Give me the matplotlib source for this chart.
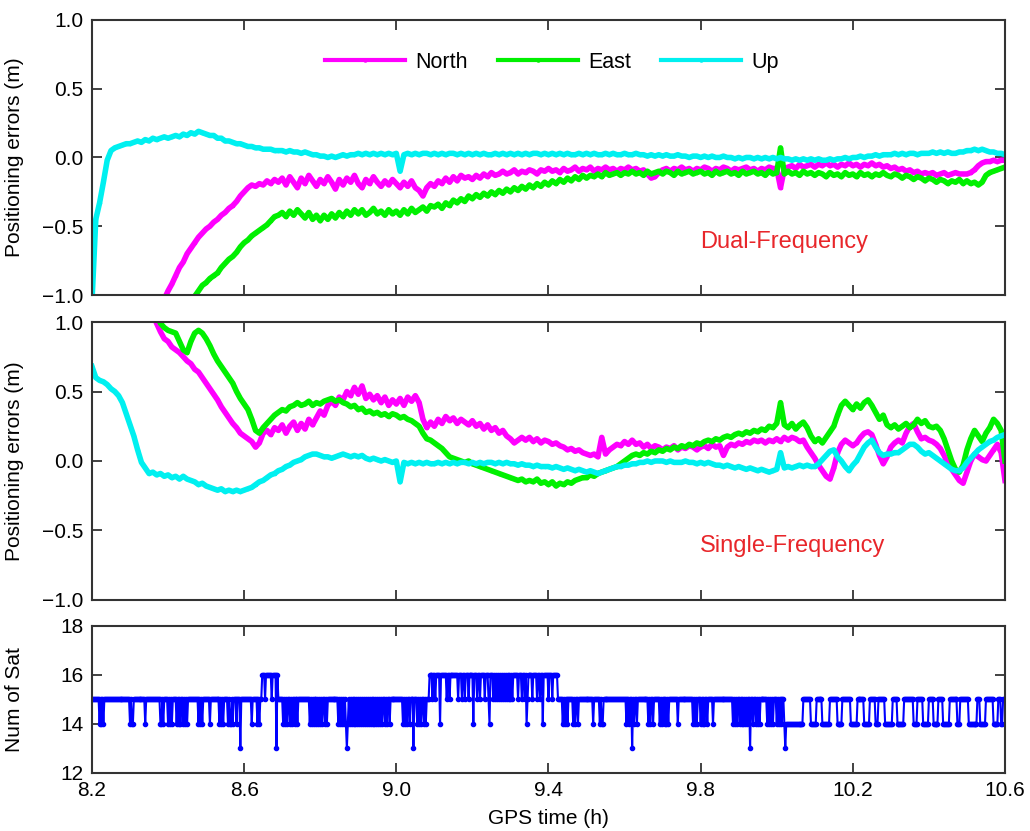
import numpy as np
import matplotlib
matplotlib.use("Agg")
import matplotlib.pyplot as plt

plt.rcParams['font.family'] = ['Liberation Sans', 'DejaVu Sans']

# GPS time grid of the positioning series (h), one value every 0.01 h
gps_time = np.round(np.linspace(8.2, 10.6, 241), 2)

# dual-frequency errors (m)
north_dual = [
    -1.95, -1.90, -1.85, -1.80, -1.75, -1.70, -1.65, -1.60, -1.55, -1.50,
    -1.45, -1.40, -1.35, -1.30, -1.25, -1.20, -1.15, -1.12, -1.08, -1.03,
    -0.97, -0.92, -0.86, -0.80, -0.76, -0.70, -0.66, -0.62, -0.58, -0.55,
    -0.52, -0.50, -0.47, -0.45, -0.42, -0.40, -0.37, -0.35, -0.32, -0.28,
    -0.25, -0.22, -0.20, -0.21, -0.19, -0.20, -0.17, -0.19, -0.16, -0.18,
    -0.15, -0.20, -0.14, -0.18, -0.22, -0.15, -0.19, -0.13, -0.17, -0.21,
    -0.16, -0.19, -0.14, -0.18, -0.23, -0.16, -0.20, -0.15, -0.18, -0.13,
    -0.19, -0.22, -0.16, -0.19, -0.14, -0.18, -0.21, -0.17, -0.20, -0.16,
    -0.19, -0.22, -0.18, -0.21, -0.17, -0.22, -0.24, -0.28, -0.22, -0.19,
    -0.21, -0.17, -0.19, -0.15, -0.18, -0.14, -0.17, -0.13, -0.15, -0.14,
    -0.16, -0.13, -0.15, -0.12, -0.14, -0.11, -0.13, -0.12, -0.10, -0.12,
    -0.11, -0.09, -0.12, -0.10, -0.11, -0.09, -0.10, -0.12, -0.09, -0.10,
    -0.08, -0.10, -0.09, -0.11, -0.08, -0.10, -0.09, -0.07, -0.10, -0.08,
    -0.09, -0.07, -0.10, -0.08, -0.09, -0.07, -0.09, -0.08, -0.10, -0.08,
    -0.09, -0.07, -0.09, -0.08, -0.10, -0.09, -0.12, -0.15, -0.14, -0.11,
    -0.09, -0.08, -0.10, -0.08, -0.09, -0.07, -0.09, -0.08, -0.10, -0.08,
    -0.09, -0.07, -0.08, -0.10, -0.08, -0.09, -0.07, -0.08, -0.10, -0.08,
    -0.09, -0.08, -0.07, -0.09, -0.08, -0.10, -0.08, -0.09, -0.07, -0.08,
    -0.08, -0.22, -0.08, -0.07, -0.06, -0.08, -0.05, -0.07, -0.06, -0.05,
    -0.07, -0.05, -0.06, -0.04, -0.06, -0.05, -0.07, -0.05, -0.06, -0.04,
    -0.06, -0.05, -0.07, -0.05, -0.06, -0.04, -0.06, -0.05, -0.07, -0.06,
    -0.08, -0.07, -0.09, -0.08, -0.10, -0.09, -0.11, -0.10, -0.12, -0.11,
    -0.12, -0.11, -0.13, -0.12, -0.11, -0.13, -0.12, -0.11, -0.12, -0.12,
    -0.12, -0.11, -0.09, -0.06, -0.04, -0.03, -0.03, -0.02, -0.03, -0.02,
    -0.02]
east_dual = [
    -2.40, -2.35, -2.30, -2.25, -2.20, -2.10, -2.00, -1.95, -1.90, -1.85,
    -1.80, -1.75, -1.70, -1.60, -1.55, -1.50, -1.45, -1.40, -1.35, -1.32,
    -1.30, -1.26, -1.22, -1.18, -1.14, -1.10, -1.06, -1.01, -0.97, -0.93,
    -0.91, -0.88, -0.86, -0.84, -0.80, -0.77, -0.74, -0.72, -0.69, -0.65,
    -0.62, -0.60, -0.57, -0.55, -0.53, -0.51, -0.49, -0.46, -0.43, -0.42,
    -0.40, -0.43, -0.39, -0.42, -0.38, -0.41, -0.44, -0.40, -0.45, -0.42,
    -0.46, -0.42, -0.45, -0.41, -0.44, -0.40, -0.43, -0.39, -0.42, -0.38,
    -0.41, -0.38, -0.42, -0.40, -0.37, -0.41, -0.39, -0.42, -0.38, -0.41,
    -0.39, -0.42, -0.38, -0.41, -0.37, -0.40, -0.38, -0.36, -0.39, -0.35,
    -0.36, -0.34, -0.37, -0.33, -0.35, -0.31, -0.33, -0.30, -0.32, -0.28,
    -0.30, -0.27, -0.29, -0.26, -0.28, -0.25, -0.27, -0.24, -0.26, -0.23,
    -0.25, -0.22, -0.24, -0.21, -0.23, -0.20, -0.22, -0.19, -0.21, -0.18,
    -0.20, -0.17, -0.19, -0.16, -0.18, -0.15, -0.17, -0.14, -0.16, -0.13,
    -0.15, -0.13, -0.14, -0.12, -0.14, -0.11, -0.13, -0.12, -0.11, -0.13,
    -0.11, -0.12, -0.10, -0.12, -0.11, -0.13, -0.10, -0.12, -0.11, -0.10,
    -0.12, -0.10, -0.11, -0.13, -0.10, -0.12, -0.11, -0.10, -0.12, -0.11,
    -0.10, -0.12, -0.11, -0.13, -0.10, -0.12, -0.11, -0.10, -0.12, -0.11,
    -0.13, -0.10, -0.12, -0.11, -0.10, -0.12, -0.11, -0.13, -0.10, -0.12,
    -0.11, 0.07, -0.12, -0.10, -0.12, -0.11, -0.13, -0.10, -0.12, -0.11,
    -0.13, -0.11, -0.12, -0.14, -0.11, -0.13, -0.12, -0.14, -0.11, -0.13,
    -0.12, -0.14, -0.11, -0.13, -0.12, -0.14, -0.12, -0.13, -0.11, -0.13,
    -0.14, -0.12, -0.13, -0.15, -0.13, -0.14, -0.16, -0.14, -0.15, -0.17,
    -0.15, -0.16, -0.18, -0.16, -0.17, -0.19, -0.17, -0.18, -0.16, -0.19,
    -0.17, -0.19, -0.18, -0.20, -0.18, -0.13, -0.11, -0.10, -0.09, -0.08,
    -0.07]
up_dual = [
    -1.05, -0.45, -0.33, -0.18, -0.02, 0.05, 0.07, 0.08, 0.09, 0.10,
    0.10, 0.11, 0.12, 0.11, 0.13, 0.12, 0.14, 0.13, 0.14, 0.15,
    0.14, 0.15, 0.16, 0.15, 0.17, 0.16, 0.18, 0.17, 0.19, 0.18,
    0.17, 0.16, 0.16, 0.14, 0.14, 0.12, 0.12, 0.11, 0.10, 0.10,
    0.09, 0.08, 0.08, 0.07, 0.07, 0.06, 0.06, 0.06, 0.05, 0.05,
    0.05, 0.04, 0.05, 0.04, 0.04, 0.03, 0.04, 0.03, 0.02, 0.02,
    0.01, 0.01, 0.00, 0.01, 0.00, 0.01, 0.02, 0.01, 0.02, 0.02,
    0.03, 0.02, 0.03, 0.02, 0.03, 0.02, 0.03, 0.02, 0.03, 0.02,
    0.03, -0.10, 0.02, 0.03, 0.02, 0.03, 0.02, 0.03, 0.03, 0.02,
    0.03, 0.02, 0.03, 0.02, 0.03, 0.03, 0.02, 0.03, 0.02, 0.03,
    0.02, 0.03, 0.02, 0.03, 0.02, 0.02, 0.03, 0.02, 0.03, 0.02,
    0.03, 0.02, 0.03, 0.02, 0.03, 0.02, 0.03, 0.03, 0.02, 0.03,
    0.02, 0.03, 0.02, 0.03, 0.02, 0.03, 0.02, 0.02, 0.03, 0.02,
    0.03, 0.02, 0.03, 0.02, 0.02, 0.03, 0.02, 0.03, 0.02, 0.02,
    0.03, 0.02, 0.02, 0.03, 0.02, 0.02, 0.01, 0.02, 0.01, 0.02,
    0.01, 0.02, 0.01, 0.01, 0.02, 0.01, 0.01, 0.00, 0.01, 0.01,
    0.00, 0.01, 0.00, 0.01, 0.00, 0.00, 0.01, 0.00, 0.00, -0.01,
    0.00, -0.01, 0.00, 0.00, -0.01, 0.00, -0.01, 0.00, -0.01, 0.00,
    -0.01, 0.00, -0.01, -0.01, -0.02, -0.01, -0.02, -0.01, -0.02, -0.01,
    -0.02, -0.01, -0.02, -0.02, -0.01, -0.02, -0.01, -0.01, 0.00, -0.01,
    0.00, 0.00, 0.01, 0.00, 0.01, 0.01, 0.02, 0.01, 0.02, 0.02,
    0.02, 0.03, 0.02, 0.03, 0.02, 0.03, 0.03, 0.02, 0.03, 0.03,
    0.03, 0.04, 0.03, 0.04, 0.03, 0.04, 0.03, 0.03, 0.04, 0.04,
    0.05, 0.05, 0.06, 0.05, 0.06, 0.05, 0.04, 0.04, 0.03, 0.03,
    0.02]

# single-frequency errors (m)
north_single = [
    1.90, 1.85, 1.80, 1.74, 1.68, 1.62, 1.57, 1.52, 1.47, 1.42,
    1.37, 1.32, 1.27, 1.22, 1.17, 1.12, 1.06, 0.99, 0.93, 0.88,
    0.86, 0.82, 0.80, 0.78, 0.75, 0.72, 0.70, 0.66, 0.64, 0.60,
    0.56, 0.52, 0.48, 0.44, 0.39, 0.35, 0.31, 0.27, 0.24, 0.20,
    0.18, 0.16, 0.14, 0.10, 0.13, 0.20, 0.22, 0.19, 0.24, 0.22,
    0.26, 0.20, 0.25, 0.28, 0.22, 0.27, 0.23, 0.30, 0.26, 0.31,
    0.36, 0.33, 0.40, 0.43, 0.40, 0.46, 0.44, 0.50, 0.47, 0.53,
    0.48, 0.54, 0.45, 0.48, 0.44, 0.47, 0.42, 0.46, 0.40, 0.44,
    0.41, 0.45, 0.40, 0.46, 0.43, 0.47, 0.42, 0.30, 0.24, 0.28,
    0.25, 0.30, 0.27, 0.32, 0.29, 0.31, 0.27, 0.30, 0.28, 0.26,
    0.29, 0.25, 0.27, 0.23, 0.26, 0.22, 0.24, 0.20, 0.22, 0.18,
    0.16, 0.13, 0.15, 0.17, 0.15, 0.17, 0.14, 0.16, 0.13, 0.15,
    0.14, 0.12, 0.13, 0.11, 0.10, 0.08, 0.09, 0.07, 0.08, 0.06,
    0.05, 0.04, 0.05, 0.03, 0.17, 0.05, 0.08, 0.10, 0.12, 0.11,
    0.14, 0.12, 0.15, 0.12, 0.13, 0.10, 0.12, 0.09, 0.11, 0.10,
    0.08, 0.10, 0.09, 0.11, 0.08, 0.10, 0.09, 0.11, 0.10, 0.08,
    0.10, 0.11, 0.09, 0.12, 0.10, 0.11, 0.04, 0.10, 0.12, 0.11,
    0.13, 0.12, 0.14, 0.13, 0.15, 0.14, 0.15, 0.13, 0.15, 0.14,
    0.16, 0.14, 0.17, 0.15, 0.17, 0.16, 0.14, 0.15, 0.10, 0.06,
    0.02, -0.03, -0.07, -0.11, -0.13, -0.05, 0.06, 0.12, 0.15, 0.13,
    0.11, 0.13, 0.17, 0.20, 0.21, 0.19, 0.12, 0.04, -0.02, 0.03,
    0.10, 0.13, 0.15, 0.13, 0.20, 0.25, 0.27, 0.21, 0.16, 0.17,
    0.15, 0.14, 0.12, 0.09, 0.04, -0.02, -0.06, -0.10, -0.14, -0.16,
    -0.08, 0.00, 0.05, 0.03, 0.01, 0.00, 0.04, 0.08, 0.12, 0.06,
    -0.14]
east_single = [
    1.90, 1.86, 1.82, 1.78, 1.74, 1.70, 1.65, 1.60, 1.55, 1.50,
    1.45, 1.40, 1.35, 1.30, 1.25, 1.19, 1.13, 1.06, 0.99, 0.96,
    0.94, 0.93, 0.92, 0.86, 0.80, 0.78, 0.86, 0.92, 0.94, 0.92,
    0.88, 0.83, 0.77, 0.72, 0.68, 0.64, 0.60, 0.56, 0.50, 0.45,
    0.41, 0.37, 0.30, 0.22, 0.20, 0.24, 0.27, 0.30, 0.33, 0.35,
    0.37, 0.36, 0.39, 0.40, 0.42, 0.40, 0.41, 0.43, 0.40, 0.42,
    0.41, 0.43, 0.44, 0.45, 0.43, 0.44, 0.42, 0.41, 0.39, 0.40,
    0.37, 0.38, 0.35, 0.36, 0.34, 0.35, 0.33, 0.34, 0.32, 0.34,
    0.33, 0.31, 0.32, 0.30, 0.29, 0.27, 0.25, 0.20, 0.16, 0.15,
    0.13, 0.11, 0.09, 0.06, 0.03, 0.02, 0.01, 0.00, -0.01, 0.00,
    -0.02, -0.03, -0.04, -0.05, -0.06, -0.07, -0.08, -0.09, -0.10, -0.11,
    -0.12, -0.13, -0.14, -0.13, -0.15, -0.14, -0.15, -0.13, -0.16, -0.15,
    -0.17, -0.15, -0.18, -0.16, -0.17, -0.15, -0.16, -0.14, -0.13, -0.12,
    -0.12, -0.10, -0.11, -0.09, -0.08, -0.07, -0.06, -0.05, -0.04, -0.02,
    0.00, 0.02, 0.04, 0.05, 0.04, 0.06, 0.05, 0.07, 0.06, 0.08,
    0.07, 0.09, 0.08, 0.10, 0.09, 0.11, 0.10, 0.12, 0.11, 0.13,
    0.12, 0.14, 0.15, 0.14, 0.16, 0.15, 0.17, 0.18, 0.17, 0.19,
    0.20, 0.19, 0.21, 0.20, 0.22, 0.21, 0.23, 0.22, 0.25, 0.24,
    0.27, 0.42, 0.26, 0.24, 0.27, 0.23, 0.26, 0.28, 0.24, 0.18,
    0.14, 0.16, 0.13, 0.17, 0.21, 0.25, 0.33, 0.40, 0.43, 0.40,
    0.37, 0.41, 0.38, 0.42, 0.44, 0.40, 0.35, 0.30, 0.33, 0.26,
    0.24, 0.26, 0.23, 0.25, 0.27, 0.24, 0.26, 0.30, 0.27, 0.29,
    0.25, 0.24, 0.25, 0.22, 0.16, 0.08, 0.00, -0.06, -0.08, -0.03,
    0.08, 0.16, 0.22, 0.18, 0.14, 0.20, 0.24, 0.30, 0.27, 0.22,
    0.00]
up_single = [
    0.68, 0.60, 0.58, 0.57, 0.55, 0.52, 0.50, 0.47, 0.42, 0.34,
    0.26, 0.18, 0.08, -0.01, -0.05, -0.09, -0.08, -0.10, -0.09, -0.11,
    -0.10, -0.12, -0.11, -0.13, -0.11, -0.13, -0.14, -0.15, -0.17, -0.16,
    -0.18, -0.19, -0.20, -0.21, -0.20, -0.22, -0.21, -0.22, -0.21, -0.22,
    -0.21, -0.20, -0.19, -0.17, -0.15, -0.14, -0.12, -0.10, -0.09, -0.07,
    -0.06, -0.04, -0.03, -0.01, 0.00, 0.01, 0.03, 0.04, 0.05, 0.05,
    0.04, 0.03, 0.03, 0.02, 0.03, 0.04, 0.05, 0.04, 0.03, 0.04,
    0.03, 0.04, 0.02, 0.01, 0.02, 0.01, 0.00, 0.01, 0.00, -0.01,
    0.00, -0.15, -0.01, -0.02, -0.01, -0.02, -0.01, -0.02, -0.01, -0.02,
    -0.02, -0.01, -0.02, -0.01, -0.02, -0.01, -0.02, -0.01, -0.01, -0.02,
    -0.01, -0.02, -0.01, -0.02, -0.01, -0.01, -0.02, -0.01, -0.02, -0.01,
    -0.02, -0.02, -0.03, -0.02, -0.03, -0.03, -0.04, -0.03, -0.04, -0.04,
    -0.04, -0.05, -0.04, -0.05, -0.06, -0.05, -0.06, -0.07, -0.06, -0.07,
    -0.08, -0.07, -0.08, -0.09, -0.08, -0.07, -0.06, -0.05, -0.04, -0.04,
    -0.03, -0.03, -0.02, -0.02, -0.01, -0.01, 0.00, -0.01, 0.00, 0.00,
    0.00, -0.01, 0.00, -0.01, -0.01, -0.01, 0.00, -0.01, -0.01, -0.02,
    -0.01, -0.02, -0.01, -0.02, -0.03, -0.03, -0.04, -0.03, -0.04, -0.05,
    -0.04, -0.05, -0.06, -0.05, -0.06, -0.07, -0.06, -0.07, -0.08, -0.07,
    -0.06, 0.06, -0.05, -0.04, -0.05, -0.04, -0.03, -0.04, -0.03, -0.04,
    -0.04, -0.02, 0.01, 0.04, 0.07, 0.08, 0.03, 0.00, -0.04, -0.07,
    -0.03, 0.00, 0.05, 0.10, 0.13, 0.15, 0.10, 0.06, 0.04, 0.05,
    0.05, 0.06, 0.06, 0.08, 0.10, 0.12, 0.12, 0.10, 0.07, 0.05,
    0.06, 0.04, 0.02, 0.00, -0.02, -0.04, -0.06, -0.07, -0.07, -0.05,
    -0.01, 0.02, 0.05, 0.08, 0.10, 0.12, 0.14, 0.15, 0.17, 0.18,
    0.19]

# number of satellites: level changes, then single-epoch drops
sat_level_t = [8.2, 8.647, 8.688, 9.086, 9.425, 10.018, 10.069,
               10.090, 10.105, 10.120, 10.140, 10.158, 10.172, 10.195, 10.211,
               10.228, 10.245, 10.258, 10.266, 10.285, 10.303, 10.316, 10.335,
               10.358, 10.369, 10.385, 10.398, 10.411, 10.425, 10.437, 10.455,
               10.474, 10.482, 10.505, 10.526, 10.534, 10.550, 10.569, 10.582,
               10.590, 10.595]
sat_level_n = [15, 16, 15, 16, 15, 14, 15,
               14, 15, 14, 15, 14, 15, 14, 15,
               14, 15, 14, 15, 14, 15, 14, 15,
               14, 15, 14, 15, 14, 15, 14, 15,
               14, 15, 14, 15, 14, 15, 14, 15,
               14, 15]
sat_drop15 = [8.655, 8.673, 9.096, 9.102, 9.133, 9.141, 9.162, 9.172, 9.181,
              9.189, 9.212, 9.220, 9.233, 9.242, 9.255, 9.260, 9.265, 9.270,
              9.275, 9.280, 9.285, 9.290, 9.295, 9.300, 9.305, 9.320, 9.329,
              9.338, 9.346, 9.357, 9.370, 9.378, 9.399, 9.409]
sat_drop14 = [8.221, 8.224, 8.229, 8.300, 8.304, 8.308, 8.339, 8.379, 8.383,
              8.387, 8.400, 8.405, 8.410, 8.423, 8.428, 8.433, 8.440, 8.445,
              8.450, 8.479, 8.484, 8.489, 8.510, 8.536, 8.540, 8.544, 8.557,
              8.562, 8.566, 8.571, 8.581, 8.620, 8.636, 8.641,
              8.702, 8.707, 8.712, 8.720, 8.725, 8.733, 8.739, 8.773, 8.778,
              8.783, 8.790, 8.795, 8.800, 8.805, 8.812, 8.818, 8.847, 8.852,
              8.857, 8.862, 8.867, 8.872, 8.877, 8.882, 8.887, 8.892, 8.897,
              8.902, 8.907, 8.912, 8.917, 8.922, 8.927, 8.932, 8.937, 8.942,
              8.947, 8.952, 8.957, 8.962, 8.970, 8.975, 8.983, 9.018, 9.023,
              9.028, 9.036, 9.054, 9.060, 9.066, 9.072, 9.078,
              9.115, 9.202, 9.246, 9.343, 9.386,
              9.438, 9.443, 9.449, 9.464, 9.470, 9.478, 9.517, 9.535, 9.539,
              9.543, 9.606, 9.612, 9.626, 9.632, 9.662, 9.668, 9.675, 9.693,
              9.698, 9.704, 9.709, 9.714, 9.741, 9.780, 9.785, 9.790, 9.800,
              9.805, 9.811, 9.817, 9.833, 9.885, 9.890, 9.895, 9.902, 9.907,
              9.912, 9.917, 9.922, 9.938, 9.945, 9.950, 9.956, 9.974, 9.980,
              9.985, 9.990, 10.000, 10.006, 10.012]
sat_drop13 = [8.589, 8.686, 8.870, 9.044, 9.620, 9.930, 10.022]

# build the satellite series on a 9 s epoch grid
sat_time = np.round(np.arange(8.2, 10.6001, 0.0025), 4)
idx = np.searchsorted(sat_level_t, sat_time, side='right') - 1
sat_num = np.array(sat_level_n)[idx].astype(float)
for lvl, drops in [(15, sat_drop15), (14, sat_drop14), (13, sat_drop13)]:
    for d in drops:
        sat_num[np.argmin(np.abs(sat_time - d))] = lvl

c_north = '#ff00ff'
c_east = '#00f000'
c_up = '#00f0f0'
c_red = '#e8262a'

fig = plt.figure(figsize=(10.3, 8.31), dpi=100)
ax1 = fig.add_axes([0.0893, 0.645, 0.8864, 0.331])
ax2 = fig.add_axes([0.0893, 0.278, 0.8864, 0.3345])
ax3 = fig.add_axes([0.0893, 0.0698, 0.8864, 0.177])

for ax, n, e, u in [(ax1, north_dual, east_dual, up_dual),
                    (ax2, north_single, east_single, up_single)]:
    ax.plot(gps_time, n, color=c_north, lw=4, marker='.', ms=3, label='North')
    ax.plot(gps_time, e, color=c_east, lw=4, marker='.', ms=3, label='East')
    ax.plot(gps_time, u, color=c_up, lw=4, marker='.', ms=3, label='Up')
    ax.set_ylim(-1, 1)
    ax.set_yticks([-1, -0.5, 0, 0.5, 1])
    ax.set_yticklabels(['\u22121.0', '\u22120.5', '0.0', '0.5', '1.0'])
    ax.set_ylabel('Positioning errors (m)', fontsize=15)

ax3.plot(sat_time, sat_num, color='#0000ff', lw=1.5, marker='.', ms=6)
ax3.set_ylim(12, 18)
ax3.set_yticks([12, 14, 16, 18])
ax3.set_ylabel('Num of Sat', fontsize=15)
ax3.set_xlabel('GPS time (h)', fontsize=15, labelpad=6)

xt = [8.2, 8.6, 9.0, 9.4, 9.8, 10.2, 10.6]
for ax in (ax1, ax2, ax3):
    ax.set_xlim(8.2, 10.6)
    ax.set_xticks(xt)
    ax.tick_params(direction='in', top=True, right=True, length=7, width=1.3,
                   labelsize=15, pad=6, color='#333333')
    for s in ax.spines.values():
        s.set_color('#333333')
        s.set_linewidth(1.5)
    ax.yaxis.set_label_coords(-0.075, 0.5)
ax1.set_xticklabels([])
ax2.set_xticklabels([])
ax3.set_xticklabels(['%.1f' % v for v in xt])

leg = ax1.legend(loc='center', bbox_to_anchor=(0.504, 0.847), ncol=3,
                 frameon=False, fontsize=15.5, handlelength=3.7,
                 handletextpad=0.5, columnspacing=1.4, numpoints=1,
                 markerscale=1.5)
for h in leg.get_lines():
    h.set_linewidth(3)

ax1.text(9.798, -0.615, 'Dual-Frequency', color=c_red, fontsize=17,
         ha='left', va='center')
ax2.text(9.798, -0.61, 'Single-Frequency', color=c_red, fontsize=17,
         ha='left', va='center')

fig.savefig('out.png', dpi=100)
